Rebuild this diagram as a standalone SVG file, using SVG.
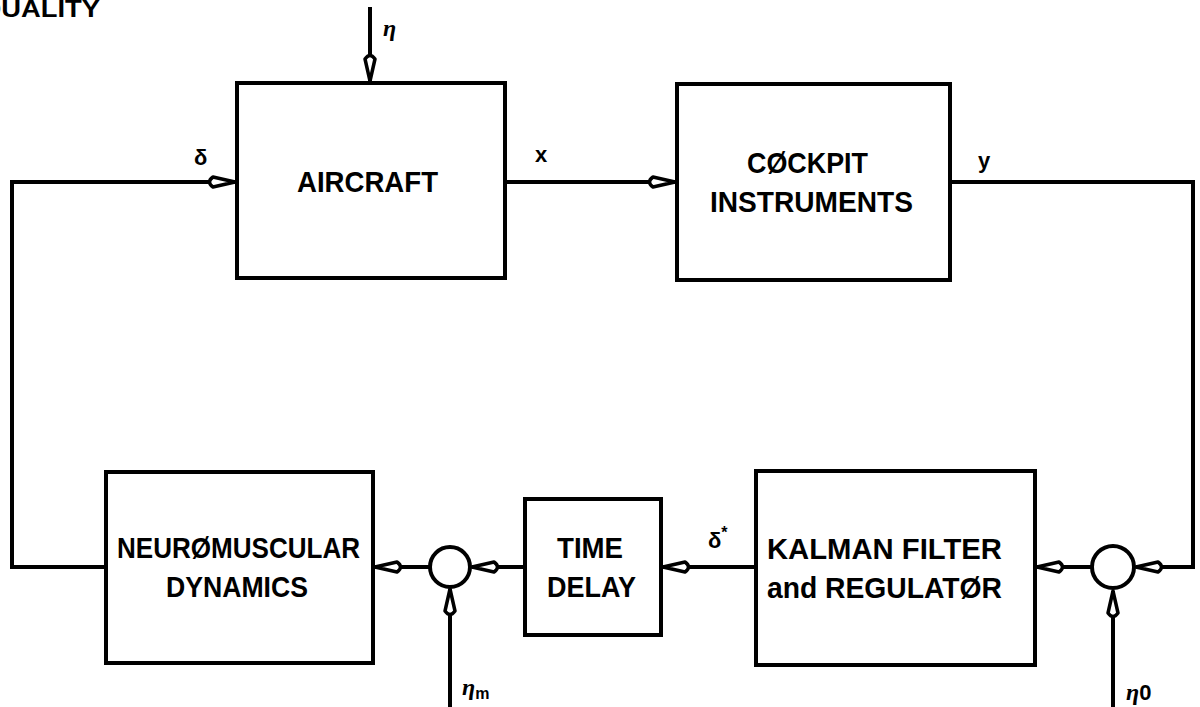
<svg xmlns="http://www.w3.org/2000/svg" width="1200" height="707" viewBox="0 0 1200 707">
<style>
.box{fill:#fff;stroke:#000;stroke-width:4}
.wire{fill:none;stroke:#000;stroke-width:4;stroke-linejoin:miter}
.lbl{font-family:"Liberation Sans",Arial,sans-serif;font-weight:bold;font-size:30px;fill:#000}
.sym{font-family:"Liberation Sans",Arial,sans-serif;font-weight:bold;font-size:22px;fill:#000}
.greek{font-family:"Liberation Serif","DejaVu Serif",serif;font-style:italic;font-weight:bold;font-size:24px;fill:#000}
</style>
<defs>
<marker id="ah" markerUnits="userSpaceOnUse" markerWidth="40" markerHeight="20" viewBox="-32 -10 36 20" refX="0" refY="0" orient="auto" overflow="visible">
<path d="M0,0 L-22,-5 Q-29,0 -22,5 Z" fill="#fff" stroke="#000" stroke-width="3.5" stroke-linejoin="round"/>
</marker>
</defs>
<rect width="1200" height="707" fill="#fff"/>
<text class="lbl" x="-20" y="17" textLength="120" lengthAdjust="spacingAndGlyphs" font-size="24" style="font-size:24px">QUALITY</text>

<g id="connectors">
<path class="wire" d="M370,7 V81" marker-end="url(#ah)"/>
<path class="wire" d="M106,567 H12 V182 H235" marker-end="url(#ah)"/>
<path class="wire" d="M505,182 H675" marker-end="url(#ah)"/>
<path class="wire" d="M950,182 H1193 V567 H1136" marker-end="url(#ah)"/>
<path class="wire" d="M1113,707 V591" marker-end="url(#ah)"/>
<path class="wire" d="M1092,567 H1037" marker-end="url(#ah)"/>
<path class="wire" d="M756,567 H663" marker-end="url(#ah)"/>
<path class="wire" d="M525,567 H472" marker-end="url(#ah)"/>
<path class="wire" d="M450,707 V589" marker-end="url(#ah)"/>
<path class="wire" d="M430,567 H375" marker-end="url(#ah)"/>
</g>

<g id="aircraft">
<rect class="box" x="237" y="83" width="268" height="195"/>
<text class="lbl" x="297" y="192" textLength="141" lengthAdjust="spacingAndGlyphs">AIRCRAFT</text>
</g>

<g id="cockpit">
<rect class="box" x="677" y="84" width="273" height="196"/>
<text class="lbl" x="747" y="173" textLength="121" lengthAdjust="spacingAndGlyphs">CØCKPIT</text>
<text class="lbl" x="710" y="212" textLength="203" lengthAdjust="spacingAndGlyphs">INSTRUMENTS</text>
</g>

<g id="kalman">
<rect class="box" x="756" y="471" width="279" height="194"/>
<text class="lbl" x="767" y="559" textLength="235" lengthAdjust="spacingAndGlyphs">KALMAN FILTER</text>
<text class="lbl" x="767" y="598" textLength="235" lengthAdjust="spacingAndGlyphs">and REGULATØR</text>
</g>

<g id="delay">
<rect class="box" x="525" y="499" width="136" height="136"/>
<text class="lbl" x="557" y="558" textLength="66" lengthAdjust="spacingAndGlyphs">TIME</text>
<text class="lbl" x="547" y="597" textLength="89" lengthAdjust="spacingAndGlyphs">DELAY</text>
</g>

<g id="neuromuscular">
<rect class="box" x="106" y="472" width="267" height="191"/>
<text class="lbl" x="117" y="558" textLength="243" lengthAdjust="spacingAndGlyphs">NEURØMUSCULAR</text>
<text class="lbl" x="166" y="597" textLength="142" lengthAdjust="spacingAndGlyphs">DYNAMICS</text>
</g>

<g id="sum-left">
<circle class="box" cx="450" cy="567" r="20"/>
</g>

<g id="sum-right">
<circle class="box" cx="1113" cy="567" r="21"/>
</g>

<g id="labels">
<text class="greek" x="383" y="36">η</text>
<text class="sym" x="194" y="165">δ</text>
<text class="sym" x="535" y="162">x</text>
<text class="sym" x="978" y="168">y</text>
<text class="sym" x="708" y="548">δ<tspan dy="-10" font-size="16">*</tspan></text>
<text class="greek" x="462" y="695">η<tspan dy="4" font-size="16" font-family="Liberation Sans" font-style="normal">m</tspan></text>
<text class="greek" x="1126" y="700">η<tspan font-family="Liberation Sans" font-style="normal" font-size="22">0</tspan></text>
</g>
</svg>
